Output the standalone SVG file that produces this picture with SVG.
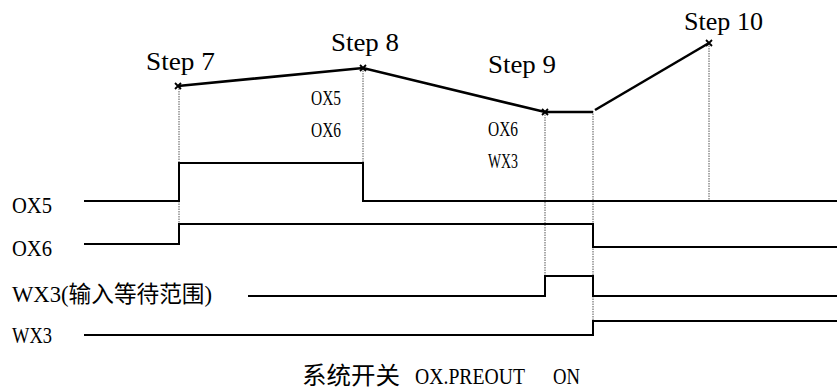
<svg xmlns="http://www.w3.org/2000/svg" width="837" height="391" viewBox="0 0 837 391">
<style>
text{font-family:"Liberation Serif","DejaVu Serif","Noto Sans CJK SC",serif;font-weight:normal;fill:#000}
.sig{fill:none;stroke:#000;stroke-width:2}
.path{fill:none;stroke:#000;stroke-width:2.6}
.dot{fill:none;stroke:#555;stroke-width:1;stroke-dasharray:1.5 1}
.mk{stroke:#000;stroke-width:1.8}
.step{font-size:26px}
.sm{font-size:20px}
.lbl{font-size:23px}
.cap{font-size:24px}
</style>
<rect width="837" height="391" fill="#fff"/>
<g id="guides">
<line class="dot" x1="179" y1="86" x2="179" y2="224"/>
<line class="dot" x1="363" y1="68" x2="363" y2="163"/>
<line class="dot" x1="545" y1="112" x2="545" y2="276"/>
<line class="dot" x1="593" y1="111" x2="593" y2="321"/>
<line class="dot" x1="709" y1="43" x2="709" y2="201"/>
</g>
<g id="profile">
<polyline class="path" points="178,86 363,68 545,112 593,112"/>
<line class="path" x1="595" y1="110" x2="709" y2="43"/>
<g class="mk">
<path d="M175,83 l6,6 M181,83 l-6,6"/>
<path d="M360,65 l6,6 M366,65 l-6,6"/>
<path d="M542,109 l6,6 M548,109 l-6,6"/>
<path d="M706,40 l6,6 M712,40 l-6,6"/>
</g>
</g>
<g id="step7"><text class="step" x="146" y="70" textLength="69" lengthAdjust="spacingAndGlyphs">Step 7</text></g>
<g id="step8"><text class="step" x="331" y="51" textLength="68" lengthAdjust="spacingAndGlyphs">Step 8</text>
<text class="sm" x="311" y="105" textLength="30" lengthAdjust="spacingAndGlyphs">OX5</text>
<text class="sm" x="311" y="137" textLength="30" lengthAdjust="spacingAndGlyphs">OX6</text></g>
<g id="step9"><text class="step" x="488" y="73" textLength="68" lengthAdjust="spacingAndGlyphs">Step 9</text>
<text class="sm" x="488" y="136" textLength="30" lengthAdjust="spacingAndGlyphs">OX6</text>
<text class="sm" x="488" y="168" textLength="30" lengthAdjust="spacingAndGlyphs">WX3</text></g>
<g id="step10"><text class="step" x="684" y="30" textLength="79" lengthAdjust="spacingAndGlyphs">Step 10</text></g>
<g id="sig-ox5">
<text class="lbl" x="12" y="213" textLength="40" lengthAdjust="spacingAndGlyphs">OX5</text>
<polyline class="sig" points="84,201 179,201 179,163 363,163 363,201 837,201"/>
</g>
<g id="sig-ox6">
<text class="lbl" x="12" y="256" textLength="40" lengthAdjust="spacingAndGlyphs">OX6</text>
<polyline class="sig" points="84,244 179,244 179,224 593,224 593,247 837,247"/>
</g>
<g id="sig-wx3-range">
<text class="lbl" x="12" y="302" textLength="200" lengthAdjust="spacingAndGlyphs">WX3(输入等待范围)</text>
<polyline class="sig" points="248,296 545,296 545,276 593,276 593,296 837,296"/>
</g>
<g id="sig-wx3">
<text class="lbl" x="12" y="343" textLength="40" lengthAdjust="spacingAndGlyphs">WX3</text>
<polyline class="sig" points="84,335 593,335 593,321 837,321"/>
</g>
<g id="caption">
<text class="cap" x="302" y="384" textLength="98" lengthAdjust="spacingAndGlyphs">系统开关</text>
<text class="cap" x="415" y="384" textLength="110" lengthAdjust="spacingAndGlyphs">OX.PREOUT</text>
<text class="cap" x="553" y="384" textLength="27" lengthAdjust="spacingAndGlyphs">ON</text>
</g>
</svg>
